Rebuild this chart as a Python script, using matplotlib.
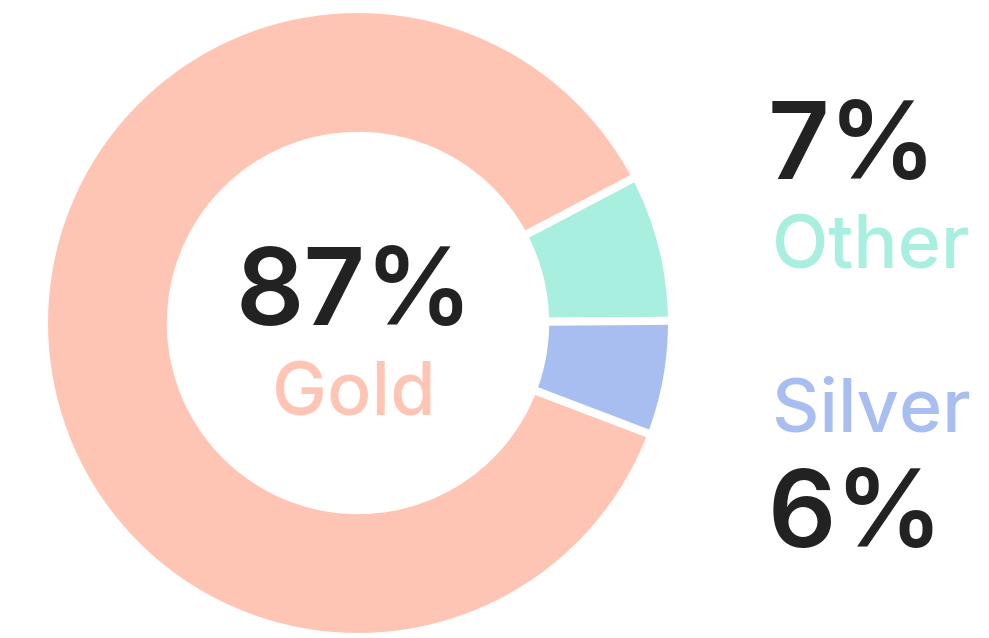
import matplotlib
matplotlib.use("Agg")
import matplotlib.pyplot as plt

# slice shares as read from the ring (percent), drawn counter-clockwise from 3 o'clock
names = ["Other", "Gold", "Silver"]
shares = [7.6, 86.5, 5.9]
colors = ["#a8efdf", "#ffc5b4", "#a9bef0"]
pct_text = {"Gold": "87%", "Other": "7%", "Silver": "6%"}

DARK = "#222222"
W, H = 989, 638
plt.rcParams["font.family"] = ["Inter", "DejaVu Sans"]

fig = plt.figure(figsize=(W / 100, H / 100), dpi=100)

# ring centre (358, 323) px from top-left, drawn radius 314 px
cx, cy, r = 358, 323, 314
ax = fig.add_axes([(cx - r) / W, (H - cy - r) / H, 2 * r / W, 2 * r / H])
ax.pie(shares, colors=colors, startangle=0.4, counterclock=True, radius=1,
       wedgeprops=dict(width=0.404, edgecolor="white", linewidth=5.8))
ax.set_xlim(-1, 1)
ax.set_ylim(-1, 1)
ax.set_aspect("equal")
ax.axis("off")


def put(x, y, s, size, color, weight, ha="left"):
    # x, y in pixels from the top-left corner, y is the text baseline
    fig.text(x / W, 1 - y / H, s, fontsize=size, color=color, fontweight=weight,
             ha=ha, va="baseline")


col = dict(zip(names, colors))
put(354, 325, pct_text["Gold"], 77, DARK, "semibold", ha="center")
put(354, 415, "Gold", 53, col["Gold"], "medium", ha="center")
put(768, 179, pct_text["Other"], 77, DARK, "semibold")
put(772, 269, "Other", 53, col["Other"], "medium")
put(772, 431, "Silver", 53, col["Silver"], "medium")
put(768, 547, pct_text["Silver"], 77, DARK, "semibold")

fig.savefig("out.png", dpi=100)
